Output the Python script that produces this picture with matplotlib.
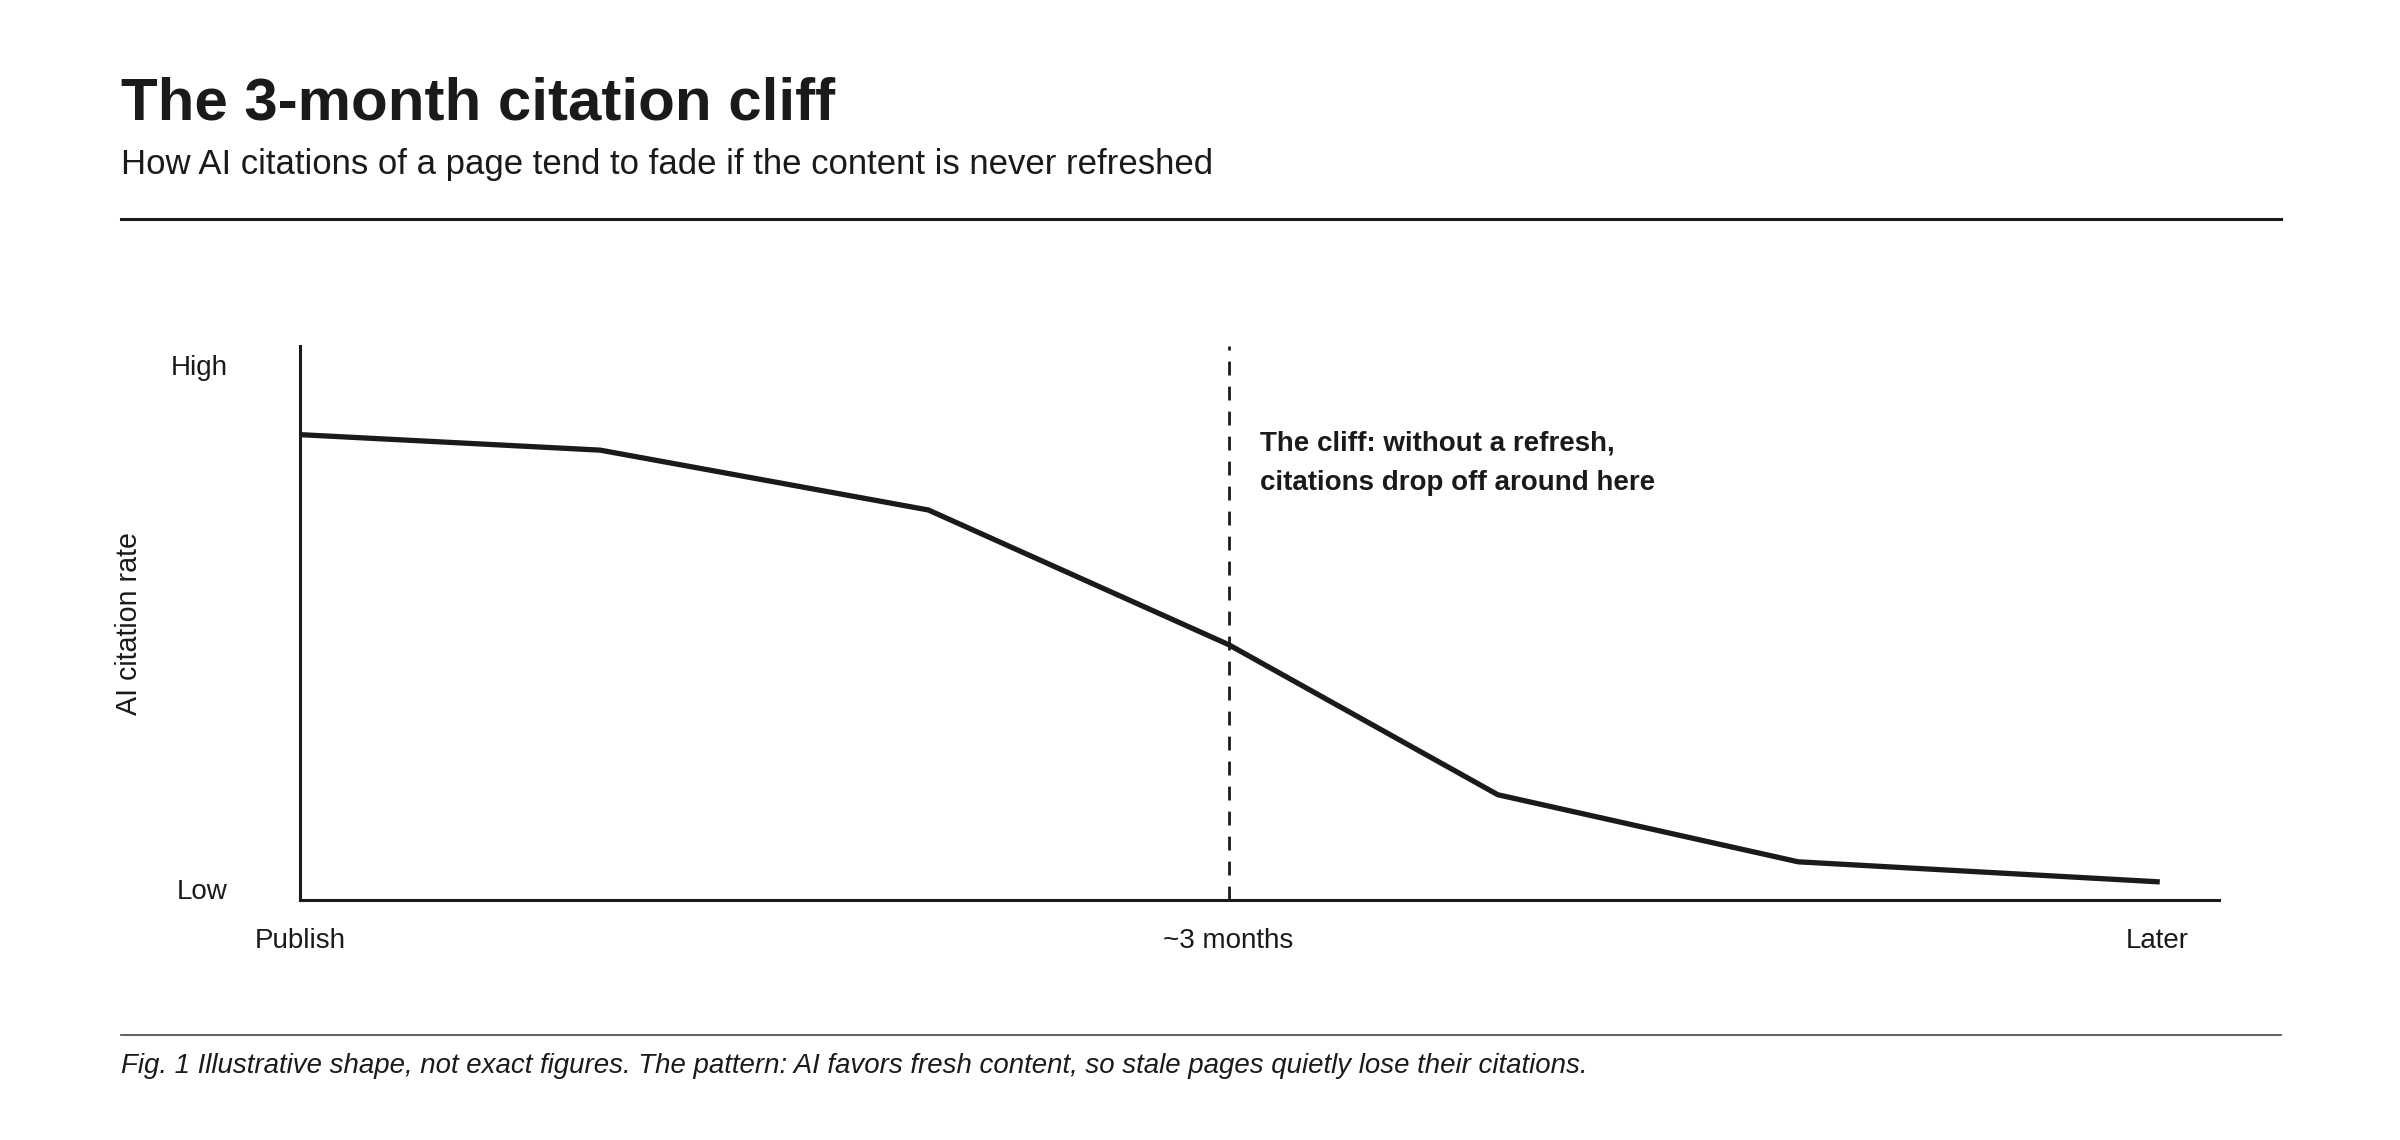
import matplotlib.pyplot as plt
from matplotlib.lines import Line2D

plt.rcParams['font.family'] = ['Liberation Sans', 'DejaVu Sans']

# data (illustrative shape)
months = [0, 0.97, 2.03, 3, 3.87, 4.84, 6]
citation_rate = [84, 81.2, 70.4, 46.1, 19, 6.9, 3.3]
x_ticks = [0, 3, 6]
x_labels = ['Publish', '~3 months', 'Later']
y_ticks = [2, 96.5]
y_labels = ['Low', 'High']
cliff_at = 3

ink = '#1a1a1a'

fig = plt.figure(figsize=(12, 5.7), dpi=200)
ax = fig.add_axes([0.125, 0.2105, 0.7996, 0.486])

ax.plot(months, citation_rate, color=ink, lw=1.9, solid_joinstyle='miter')
ax.axvline(cliff_at, color=ink, lw=1.0, ls=(0, (5, 4)))
ax.text(3.1, 84.8, 'The cliff: without a refresh,\ncitations drop off around here',
        fontsize=10, fontweight='bold', color=ink, va='top', ha='left', linespacing=1.68)

ax.set_xlim(0, 6.2)
ax.set_ylim(0, 100)
ax.set_xticks(x_ticks, x_labels)
ax.set_yticks(y_ticks, y_labels)
ax.tick_params(length=0, labelsize=10, colors=ink)
ax.tick_params(axis='x', pad=10)
ax.tick_params(axis='y', pad=26)
ax.set_ylabel('AI citation rate', fontsize=10.3, color=ink, labelpad=10)
for s in ['top', 'right']:
    ax.spines[s].set_visible(False)
for s in ['left', 'bottom']:
    ax.spines[s].set_linewidth(1.1)
    ax.spines[s].set_color(ink)

fig.text(0.0505, 0.8956, 'The 3-month citation cliff', fontsize=21.6, fontweight='bold',
         color=ink, va='baseline')
fig.text(0.0505, 0.847, 'How AI citations of a page tend to fade if the content is never refreshed',
         fontsize=12.5, color=ink, va='baseline')
fig.add_artist(Line2D([0.0505, 0.9505], [0.808, 0.808], color=ink, lw=1.1))
fig.add_artist(Line2D([0.0505, 0.9505], [0.092, 0.092], color='#444444', lw=0.6))
fig.text(0.0505, 0.059, 'Fig. 1 Illustrative shape, not exact figures. The pattern: AI favors fresh '
         'content, so stale pages quietly lose their citations.',
         fontsize=9.95, style='italic', color=ink, va='baseline')

fig.savefig('out.png', dpi=200, facecolor='white')
